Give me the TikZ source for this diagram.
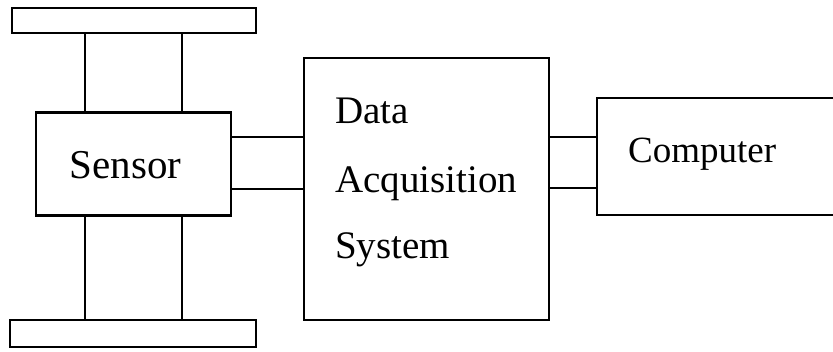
\documentclass[tikz,border=0pt]{standalone}
\usepackage{fontspec}
\setmainfont{Liberation Serif}
\begin{document}
\begin{tikzpicture}[x=1pt,y=-1pt,
  box/.style={draw,line width=2.3pt,inner sep=0pt,outer sep=0pt},
  wire/.style={line width=2.3pt}]
\useasboundingbox (0,0) rectangle (833,351);
% plates
\node[box,minimum width=244pt,minimum height=25pt] (top) at (134,20.5) {};
\node[box,minimum width=246pt,minimum height=27pt] (bot) at (133,333.5) {};
% sensor
\node[box,minimum width=195pt,minimum height=103pt] (sensor) at (133.5,164) {};
\node[font=\fontsize{41}{48}\selectfont,anchor=base] (sensortext) at (125.5,178) {Sensor};
% DAQ
\node[box,minimum width=245pt,minimum height=262pt] (daq) at (426.5,189) {};
\node[font=\fontsize{39}{48}\selectfont,anchor=base west,inner sep=0pt] (l1) at (335,123) {Data};
\node[font=\fontsize{39}{48}\selectfont,anchor=base west,inner sep=0pt] (l2) at (335,192) {Acquisition};
\node[font=\fontsize{39}{48}\selectfont,anchor=base west,inner sep=0pt] (l3) at (335,258) {System};
% computer
\node[box,minimum width=238pt,minimum height=117pt] (comp) at (716,156.5) {};
\node[font=\fontsize{37}{44}\selectfont,anchor=base west,inner sep=0pt] (ct) at (628,162) {Computer};
% vertical links
\draw[wire] (top.south -| 85,0) -- (sensor.north -| 85,0);
\draw[wire] (top.south -| 182,0) -- (sensor.north -| 182,0);
\draw[wire] (sensor.south -| 85,0) -- (bot.north -| 85,0);
\draw[wire] (sensor.south -| 182,0) -- (bot.north -| 182,0);
% horizontal links
\draw[wire] (sensor.east |- 0,137) -- (daq.west |- 0,137);
\draw[wire] (sensor.east |- 0,189) -- (daq.west |- 0,189);
\draw[wire] (daq.east |- 0,137) -- (comp.west |- 0,137);
\draw[wire] (daq.east |- 0,188) -- (comp.west |- 0,188);
\end{tikzpicture}
\end{document}
